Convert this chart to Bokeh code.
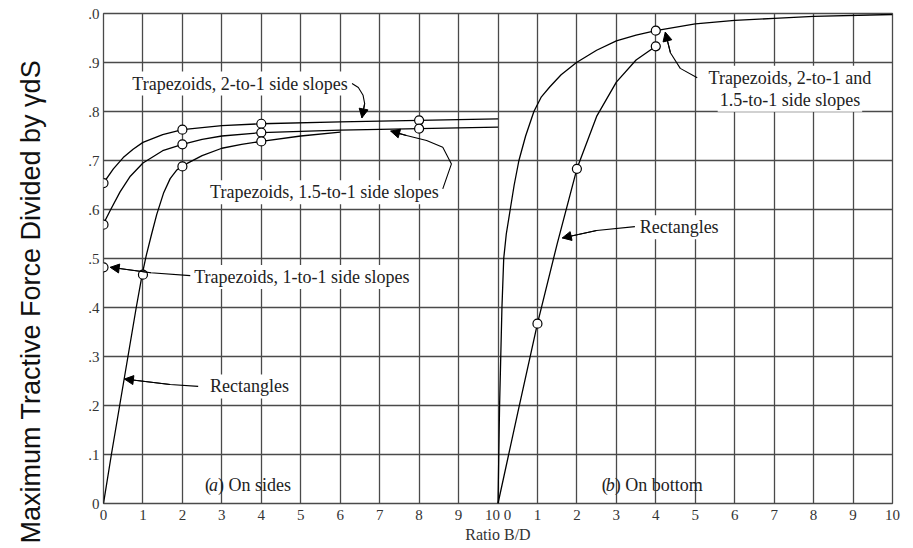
from bokeh.plotting import figure
from bokeh.models import FixedTicker, Label, Arrow, NormalHead, Range1d, Title
from bokeh.embed import file_html
from bokeh.resources import INLINE

# ---------------- data ----------------
# (a) On sides  -- curves
sides_trap2_x = [0, 0.25, 0.5, 0.75, 1, 1.5, 2, 3, 4, 6, 8, 10]
sides_trap2_y = [0.654, 0.683, 0.706, 0.723, 0.737, 0.753, 0.763, 0.771, 0.775, 0.779, 0.782, 0.785]
sides_trap15_x = [0, 0.17, 0.42, 0.68, 1, 1.5, 2, 2.5, 3, 4, 6, 8, 10]
sides_trap15_y = [0.571, 0.598, 0.636, 0.668, 0.695, 0.720, 0.733, 0.743, 0.750, 0.757, 0.762, 0.765, 0.768]
sides_rect_x = [0, 0.2, 0.41, 0.62, 0.83, 0.98, 1.08, 1.22, 1.35, 1.52, 1.69, 1.85, 2, 2.5, 3, 3.5, 4, 5, 6]
sides_rect_y = [0, 0.1, 0.2, 0.3, 0.4, 0.467, 0.505, 0.55, 0.59, 0.633, 0.663, 0.680, 0.689, 0.710,
                0.725, 0.733, 0.739, 0.750, 0.758]
# (a) On sides -- plotted points
sides_pts_x = [0, 2, 4, 8, 0, 2, 4, 8, 0, 1, 2, 4]
sides_pts_y = [0.654, 0.763, 0.775, 0.782, 0.569, 0.733, 0.757, 0.765, 0.482, 0.467, 0.688, 0.739]

# (b) On bottom -- curves
bottom_trap_x = [0, 0.02, 0.04, 0.07, 0.10, 0.145, 0.21, 0.31, 0.41, 0.53, 0.7, 0.91, 1.1, 1.31, 1.6,
                 1.99, 2.5, 3, 3.5, 4, 5, 6, 7, 8, 10]
bottom_trap_y = [0, 0.1, 0.2, 0.3, 0.4, 0.5, 0.55, 0.6, 0.65, 0.7, 0.75, 0.8, 0.83, 0.85, 0.875,
                 0.9, 0.925, 0.944, 0.956, 0.965, 0.979, 0.986, 0.990, 0.994, 0.998]
bottom_rect_x = [0, 0.5, 1, 1.5, 2, 2.5, 3, 3.5, 4]
bottom_rect_y = [0, 0.185, 0.367, 0.53, 0.683, 0.79, 0.86, 0.905, 0.933]
# (b) On bottom -- plotted points
bottom_pts_x = [1, 2, 4, 4]
bottom_pts_y = [0.367, 0.683, 0.933, 0.965]

# tick labels
x_tick_labels = ["0", "1", "2", "3", "4", "5", "6", "7", "8", "9", "10 0",
                 "1", "2", "3", "4", "5", "6", "7", "8", "9", "10"]
y_tick_labels = ["0", ".1", ".2", ".3", ".4", ".5", ".6", ".7", ".8", ".9", ".0"]

PANEL = 10  # width of one panel in B/D units; right panel is shifted by this

# ---------------- figure ----------------
SERIF = "Liberation Serif"
GRID = "#4a4a4a"

p = figure(width=913, height=548, output_backend="svg", toolbar_location=None,
           x_range=Range1d(0, 2 * PANEL), y_range=Range1d(0, 1.0),
           min_border_left=103, min_border_right=21, min_border_top=13, min_border_bottom=45)
p.background_fill_color = "white"
p.border_fill_color = "white"
p.outline_line_color = GRID
p.outline_line_width = 1.3

xt = list(range(2 * PANEL + 1))
yt = [round(i / 10, 1) for i in range(11)]
p.xaxis.ticker = FixedTicker(ticks=xt)
p.yaxis.ticker = FixedTicker(ticks=yt)
p.xaxis.major_label_overrides = {t: lab for t, lab in zip(xt, x_tick_labels)}
p.yaxis.major_label_overrides = {t: lab for t, lab in zip(yt, y_tick_labels)}
for ax in (p.xaxis, p.yaxis):
    ax.axis_line_color = None
    ax.major_tick_line_color = None
    ax.minor_tick_line_color = None
    ax.major_tick_out = 0
    ax.major_tick_in = 0
    ax.minor_tick_out = 0
    ax.minor_tick_in = 0
    ax.major_label_text_font = SERIF
    ax.major_label_text_font_size = "15px"
    ax.major_label_text_color = "#333333"
p.xaxis.major_label_standoff = 3
p.yaxis.major_label_standoff = 4

p.xaxis.axis_label = "Ratio B/D"
p.xaxis.axis_label_text_font = SERIF
p.xaxis.axis_label_text_font_style = "normal"
p.xaxis.axis_label_text_font_size = "16px"
p.xaxis.axis_label_text_color = "#333333"
p.xaxis.axis_label_standoff = 0

# spacer between the tick labels and the vertical title
p.add_layout(Title(text=" ", text_font_size="1px", standoff=22), "left")
p.add_layout(Title(text="Maximum Tractive Force Divided by \u03b3dS", align="left", offset=-40,
                   vertical_align="middle", standoff=28, text_font="Liberation Sans",
                   text_font_size="27px", text_font_style="normal", text_color="#111111"), "left")

p.xgrid.ticker = FixedTicker(ticks=xt)
p.ygrid.ticker = FixedTicker(ticks=yt)
for g in (p.xgrid, p.ygrid):
    g.grid_line_color = GRID
    g.grid_line_width = 1.3
    g.grid_line_alpha = 1.0

# curves
LW = 1.3
p.line(sides_trap2_x, sides_trap2_y, line_color="black", line_width=LW)
p.line(sides_trap15_x, sides_trap15_y, line_color="black", line_width=LW)
p.line(sides_rect_x, sides_rect_y, line_color="black", line_width=LW)
p.line([PANEL + v for v in bottom_trap_x], bottom_trap_y, line_color="black", line_width=LW)
p.line([PANEL + v for v in bottom_rect_x], bottom_rect_y, line_color="black", line_width=LW)

# points
p.scatter(sides_pts_x, sides_pts_y, size=9, fill_color="white", line_color="black", line_width=1.2)
p.scatter([PANEL + v for v in bottom_pts_x], bottom_pts_y, size=9, fill_color="white",
          line_color="black", line_width=1.2)

# ---------------- annotations ----------------
def lab(text, x, y, align="left", style="normal", size="18px", xoff=0, bg=True):
    kw = dict(x=x, y=y, text=text, text_font=SERIF, text_font_size=size, text_font_style=style,
              text_align=align, text_baseline="middle", text_color="#222222", x_offset=xoff)
    if bg:
        kw.update(background_fill_color="white", background_fill_alpha=1.0, padding=2)
    p.add_layout(Label(**kw))

def leader(xs, ys):
    # curved leader line ending with an arrowhead
    p.line(xs, ys, line_color="black", line_width=1.1)
    p.add_layout(Arrow(end=NormalHead(size=9, fill_color="black", line_color="black"),
                       x_start=xs[-2], y_start=ys[-2], x_end=xs[-1], y_end=ys[-1],
                       line_color="black", line_width=1.1))

# left panel labels
lab("Trapezoids, 2-to-1 side slopes", 0.68, 0.857)
leader([6.30, 6.46, 6.58, 6.62, 6.55], [0.857, 0.849, 0.833, 0.816, 0.787])
lab("Trapezoids, 1.5-to-1 side slopes", 2.65, 0.635)
leader([8.60, 8.82, 8.60, 8.19, 7.68, 7.28], [0.642, 0.693, 0.727, 0.741, 0.751, 0.760])
lab("Trapezoids, 1-to-1 side slopes", 2.25, 0.462)
leader([2.20, 1.2, 0.17], [0.465, 0.471, 0.482])
lab("Rectangles", 2.65, 0.239)
leader([2.40, 1.69, 0.53], [0.239, 0.243, 0.254])
lab("(", 2.52, 0.037)
lab("a", 2.52, 0.037, style="italic", xoff=6, bg=False)
lab(") On sides", 2.52, 0.037, xoff=15, bg=False)

# right panel labels
lab("Trapezoids, 2-to-1 and", PANEL + 7.40, 0.869, align="center")
lab("1.5-to-1 side slopes", PANEL + 7.40, 0.824, align="center")
leader([PANEL + 5.05, PANEL + 4.62, PANEL + 4.37, PANEL + 4.24], [0.869, 0.888, 0.920, 0.962])
lab("Rectangles", PANEL + 3.54, 0.564)
leader([PANEL + 3.47, PANEL + 2.50, PANEL + 1.63], [0.565, 0.557, 0.542])
lab("(", PANEL + 2.58, 0.037)
lab("b", PANEL + 2.58, 0.037, style="italic", xoff=6, bg=False)
lab(") On bottom", PANEL + 2.58, 0.037, xoff=15, bg=False)

open("out.html", "w").write(file_html(p, INLINE))
